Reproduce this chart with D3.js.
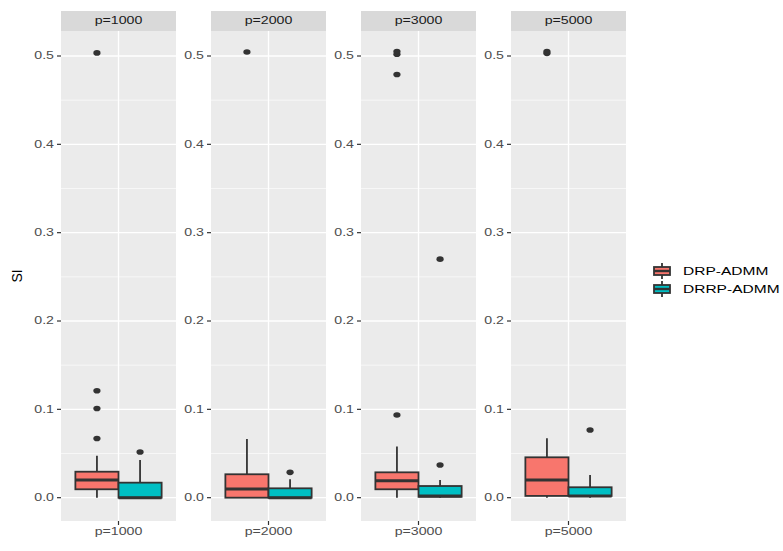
<!DOCTYPE html>
<html>
<head>
<meta charset="utf-8">
<script src="https://cdn.jsdelivr.net/npm/d3@7"></script>
<style>
  body { margin: 0; background: #fff; }
  svg { display: block; font-family: "Liberation Sans", Arial, sans-serif; }
</style>
</head>
<body>
<svg id="chart" width="783" height="551"></svg>
<script>
// facets and series
var facets = ["p=1000", "p=2000", "p=3000", "p=5000"];
var groups = ["DRP-ADMM", "DRRP-ADMM"];
var colors = ["#F8766D", "#00BFC4"];

// box statistics, one value per facet
var drpLow = [0, 0, 0, 0];
var drpQ1 = [0.0095, 0.0, 0.0095, 0.002];
var drpMed = [0.020, 0.0098, 0.0193, 0.020];
var drpQ3 = [0.0294, 0.0265, 0.0287, 0.0457];
var drpHigh = [0.0475, 0.0664, 0.0578, 0.0672];
var drpOut = [[0.121, 0.101, 0.067, 0.5035], [0.5045], [0.0936, 0.479, 0.502, 0.505], [0.503, 0.505]];

var drrpLow = [0, 0, 0, 0];
var drrpQ1 = [0, 0, 0.001, 0.002];
var drrpMed = [0, 0, 0.002, 0.002];
var drrpQ3 = [0.017, 0.0106, 0.0132, 0.0118];
var drrpHigh = [0.0427, 0.021, 0.020, 0.0257];
var drrpOut = [[0.0517], [0.0287], [0.037, 0.270], [0.0766]];

var yTicks = [0, 0.1, 0.2, 0.3, 0.4, 0.5];
var yMinor = [0.05, 0.15, 0.25, 0.35, 0.45];

// build rows for drawing
var boxes = [];
facets.forEach(function(f, i) {
  boxes.push({facet: f, group: groups[0], lo: drpLow[i], q1: drpQ1[i], med: drpMed[i], q3: drpQ3[i], hi: drpHigh[i], out: drpOut[i]});
  boxes.push({facet: f, group: groups[1], lo: drrpLow[i], q1: drrpQ1[i], med: drrpMed[i], q3: drrpQ3[i], hi: drrpHigh[i], out: drrpOut[i]});
});

var svg = d3.select("#chart");
var sx = 1.35; // text in the reference is drawn wide

var panelW = 115, panelTop = 31, panelBottom = 521, stripTop = 11;
var facetX = d3.scalePoint().domain(facets).range([61, 511]);
var y = d3.scaleLinear().domain([-0.0264, 0.5283]).range([panelBottom, panelTop]);
// one discrete x slot, ggplot expands 0.6 each side
var xUnit = d3.scaleLinear().domain([0.4, 1.6]).range([0, panelW]);
var dodge = d3.scaleBand().domain(groups).range([xUnit(0.55), xUnit(1.45)]);
var color = d3.scaleOrdinal().domain(groups).range(colors);

var ink = "#333333";

facets.forEach(function(f) {
  var g = svg.append("g").attr("transform", "translate(" + facetX(f) + ",0)");

  // strip
  g.append("rect").attr("x", 0).attr("y", stripTop).attr("width", panelW).attr("height", panelTop - stripTop)
    .attr("fill", "#D9D9D9");
  g.append("text")
    .attr("transform", "translate(" + panelW / 2 + "," + (panelTop + stripTop) / 2 + ") scale(" + sx + ",1)")
    .attr("text-anchor", "middle").attr("dominant-baseline", "central")
    .attr("font-size", 10.5).attr("fill", "#1A1A1A").text(f);

  // panel
  g.append("rect").attr("x", 0).attr("y", panelTop).attr("width", panelW).attr("height", panelBottom - panelTop)
    .attr("fill", "#EBEBEB");
  g.selectAll(".minor").data(yMinor).enter().append("line")
    .attr("x1", 0).attr("x2", panelW).attr("y1", y).attr("y2", y)
    .attr("stroke", "#fff").attr("stroke-width", 0.6);
  g.selectAll(".major").data(yTicks).enter().append("line")
    .attr("x1", 0).attr("x2", panelW).attr("y1", y).attr("y2", y)
    .attr("stroke", "#fff").attr("stroke-width", 1.3);
  g.append("line").attr("x1", xUnit(1)).attr("x2", xUnit(1)).attr("y1", panelTop).attr("y2", panelBottom)
    .attr("stroke", "#fff").attr("stroke-width", 1.3);

  // y axis
  var yt = g.selectAll(".yt").data(yTicks).enter().append("g");
  yt.append("line").attr("x1", -4).attr("x2", 0).attr("y1", y).attr("y2", y)
    .attr("stroke", ink).attr("stroke-width", 1.2);
  yt.append("text")
    .attr("transform", function(d) { return "translate(-7," + y(d) + ") scale(" + sx + ",1)"; })
    .attr("text-anchor", "end").attr("dominant-baseline", "central")
    .attr("font-size", 10.5).attr("fill", "#4D4D4D").text(d3.format(".1f"));

  // x axis
  g.append("line").attr("x1", xUnit(1)).attr("x2", xUnit(1)).attr("y1", panelBottom).attr("y2", panelBottom + 4)
    .attr("stroke", ink).attr("stroke-width", 1.2);
  g.append("text")
    .attr("transform", "translate(" + xUnit(1) + "," + (panelBottom + 13.5) + ") scale(" + sx + ",1)")
    .attr("text-anchor", "middle").attr("font-size", 10.5).attr("fill", "#4D4D4D").text(f);

  // boxes
  var b = g.selectAll(".box").data(boxes.filter(function(d) { return d.facet === f; }))
    .enter().append("g");
  b.append("line")
    .attr("x1", function(d) { return dodge(d.group) + dodge.bandwidth() / 2; })
    .attr("x2", function(d) { return dodge(d.group) + dodge.bandwidth() / 2; })
    .attr("y1", function(d) { return y(d.hi); }).attr("y2", function(d) { return y(d.lo); })
    .attr("stroke", ink).attr("stroke-width", 1.8);
  b.append("rect")
    .attr("x", function(d) { return dodge(d.group); })
    .attr("width", dodge.bandwidth())
    .attr("y", function(d) { return y(d.q3); })
    .attr("height", function(d) { return y(d.q1) - y(d.q3); })
    .attr("fill", function(d) { return color(d.group); })
    .attr("stroke", ink).attr("stroke-width", 1.8);
  b.append("line")
    .attr("x1", function(d) { return dodge(d.group); })
    .attr("x2", function(d) { return dodge(d.group) + dodge.bandwidth(); })
    .attr("y1", function(d) { return y(d.med); }).attr("y2", function(d) { return y(d.med); })
    .attr("stroke", ink).attr("stroke-width", 3);
  b.each(function(d) {
    d3.select(this).selectAll("ellipse").data(d.out).enter().append("ellipse")
      .attr("cx", dodge(d.group) + dodge.bandwidth() / 2)
      .attr("cy", function(v) { return y(v); })
      .attr("rx", 3.6).attr("ry", 2.8)
      .attr("fill", ink);
  });
});

// y title
svg.append("text")
  .attr("transform", "translate(22," + (panelTop + panelBottom) / 2 + ") rotate(-90)")
  .attr("text-anchor", "middle").attr("font-size", 14).attr("fill", "#000").text("SI");

// legend
var leg = svg.selectAll(".leg").data(groups).enter().append("g")
  .attr("transform", function(d, i) { return "translate(653," + (262 + i * 18) + ")"; });
leg.append("line").attr("x1", 9).attr("x2", 9).attr("y1", 1).attr("y2", 17)
  .attr("stroke", ink).attr("stroke-width", 1.8);
leg.append("rect").attr("x", 1).attr("y", 5).attr("width", 16).attr("height", 8)
  .attr("fill", function(d) { return color(d); }).attr("stroke", ink).attr("stroke-width", 1.8);
leg.append("line").attr("x1", 1).attr("x2", 17).attr("y1", 9).attr("y2", 9)
  .attr("stroke", ink).attr("stroke-width", 2.4);
leg.append("text")
  .attr("transform", "translate(30,9) scale(" + 1.35 + ",1)")
  .attr("dominant-baseline", "central").attr("font-size", 11.5).attr("fill", "#000")
  .text(function(d) { return d; });
</script>
</body>
</html>
